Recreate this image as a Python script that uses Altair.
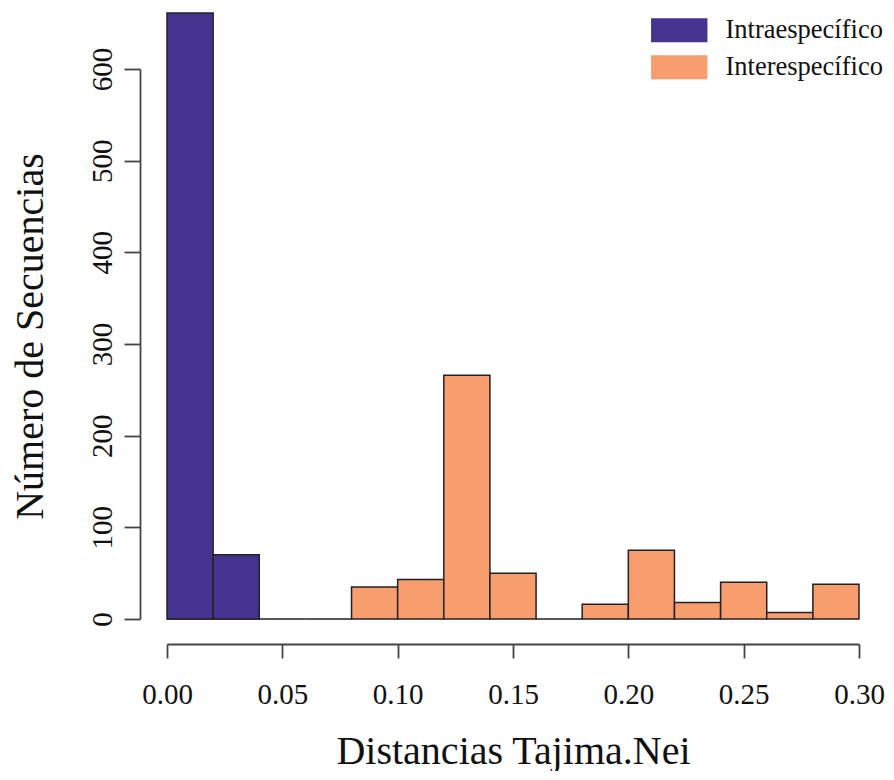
import altair as alt
import pandas as pd

# Histogram bins (Tajima-Nei distance)
bin_start = [0.00, 0.02, 0.04, 0.06, 0.08, 0.10, 0.12, 0.14, 0.16, 0.18, 0.20, 0.22, 0.24, 0.26, 0.28]
bin_end = [0.02, 0.04, 0.06, 0.08, 0.10, 0.12, 0.14, 0.16, 0.18, 0.20, 0.22, 0.24, 0.26, 0.28, 0.30]
inter_counts = [0, 0, 0, 0, 35, 43, 266, 50, 0, 16, 75, 18, 40, 7, 38]
intra_start = [0.00, 0.02]
intra_end = [0.02, 0.04]
intra_counts = [661, 70]

groups = ["Intraespecífico", "Interespecífico"]
colors = ["#45348F", "#F89D6D"]
x_ticks = [0.00, 0.05, 0.10, 0.15, 0.20, 0.25, 0.30]
y_ticks = [0, 100, 200, 300, 400, 500, 600]

rows = []
for s, e, c in zip(bin_start, bin_end, inter_counts):
    rows.append({"group": groups[1], "start": s, "end": e, "count": c})
for s, e, c in zip(intra_start, intra_end, intra_counts):
    rows.append({"group": groups[0], "start": s, "end": e, "count": c})
df = pd.DataFrame(rows)

FONT = "Liberation Serif"

chart = alt.Chart(df).mark_rect(stroke="#222222", strokeWidth=1.5).encode(
    x=alt.X(
        "start:Q",
        scale=alt.Scale(domain=[0, 0.3], nice=False, zero=False),
        axis=alt.Axis(
            values=x_ticks, format=".2f", offset=25, tickSize=14,
            labelPadding=45, labelBaseline="alphabetic", labelFlush=False,
            labelOverlap=False, grid=False, domain=True,
            title="Distancias Tajima.Nei", titleX=346, titleY=119,
            titleAlign="center", titleBaseline="alphabetic",
        ),
    ),
    x2="end:Q",
    y=alt.Y(
        "count:Q",
        scale=alt.Scale(domain=[0, 600], nice=False),
        axis=alt.Axis(
            values=y_ticks, offset=27, tickSize=16, labelAngle=270,
            labelAlign="center", labelBaseline="alphabetic", labelPadding=13,
            labelFlush=False, labelOverlap=False, grid=False, domain=True,
            title="Número de Secuencias", titleAngle=270, titleX=-98, titleY=267,
            titleAlign="center", titleBaseline="alphabetic",
        ),
    ),
    y2=alt.Y2(datum=0),
    color=alt.Color(
        "group:N",
        scale=alt.Scale(domain=groups, range=colors),
        legend=alt.Legend(
            orient="none", legendX=499, legendY=-52, title=None,
            symbolType="M-2.35,-1H2.35V1H-2.35Z", symbolSize=576,
            symbolStrokeWidth=0, symbolOpacity=1,
            labelFont=FONT, labelFontSize=26.5, labelColor="#111111",
            labelOffset=33, rowPadding=10, padding=0, labelLimit=400,
        ),
    ),
).properties(
    width=692,
    height=550,
    background="white",
    autosize=alt.AutoSizeParams(type="none"),
    padding={"left": 159, "top": 61, "right": 27, "bottom": 152},
).configure_view(
    stroke=None
).configure_axis(
    grid=False,
    domainColor="#444444", domainWidth=1.8,
    tickColor="#444444", tickWidth=1.8,
    labelFont=FONT, labelFontSize=29, labelColor="#111111",
    titleFont=FONT, titleFontSize=40, titleFontWeight="normal", titleColor="#111111",
)

chart.save("out.html", embed_options={"renderer": "svg", "actions": False})
